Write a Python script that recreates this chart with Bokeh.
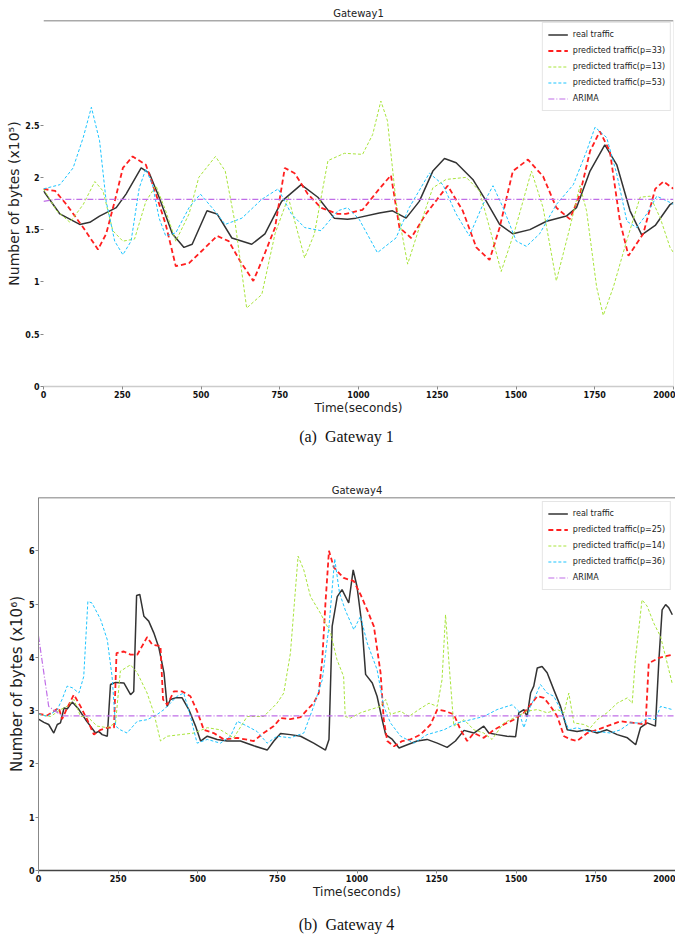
from bokeh.plotting import figure
from bokeh.models import (Range1d, FixedTicker, NumeralTickFormatter, Span, Div, Legend)
from bokeh.embed import file_html
from bokeh.resources import INLINE

# ---------------- Gateway 1 data (values in x10^5 bytes) ----------------
g1_real_t = [0,52,115,147,178,231,262,310,336,367,409,446,472,519,551,598,661,703,756,818,871,923,965,992,1066,1108,1151,1193,1236,1273,1310,1363,1406,1448,1490,1544,1597,1660,1692,1735,1782,1820,1862,1899,1942,1989,2000]
g1_real_v = [1.87,1.65,1.55,1.57,1.63,1.71,1.84,2.09,2.04,1.81,1.46,1.33,1.36,1.68,1.65,1.42,1.36,1.46,1.77,1.93,1.81,1.61,1.60,1.61,1.66,1.68,1.61,1.77,2.06,2.18,2.14,1.98,1.77,1.55,1.46,1.50,1.58,1.63,1.71,2.06,2.31,2.12,1.68,1.45,1.54,1.74,1.76]

g1_p33_t = [0,37,73,126,173,199,226,252,283,325,357,388,420,462,514,551,588,624,666,693,735,766,797,839,881,934,960,1013,1066,1103,1130,1167,1214,1283,1331,1374,1416,1448,1490,1538,1586,1628,1671,1703,1735,1766,1798,1830,1857,1904,1942,1968,2000]
g1_p33_v = [1.89,1.87,1.74,1.52,1.31,1.46,1.77,2.09,2.20,2.12,1.84,1.55,1.15,1.18,1.33,1.44,1.39,1.20,1.01,1.20,1.52,2.09,2.04,1.84,1.71,1.65,1.65,1.69,1.89,2.02,1.52,1.42,1.65,1.92,1.68,1.33,1.21,1.52,2.06,2.17,2.01,1.71,1.60,1.84,2.25,2.44,2.25,1.58,1.25,1.46,1.89,1.96,1.89]

g1_p13_t = [0,42,84,126,163,189,220,252,289,325,357,388,420,462,493,546,577,609,645,693,735,777,829,860,903,955,1013,1045,1071,1092,1119,1156,1193,1236,1278,1342,1384,1416,1453,1496,1549,1586,1628,1671,1703,1724,1756,1777,1809,1851,1894,1926,1958,1989,2000]
g1_p13_v = [1.89,1.68,1.57,1.74,1.96,1.87,1.49,1.39,1.41,1.77,1.92,1.68,1.39,1.65,2.00,2.20,2.06,1.55,0.75,0.88,1.46,1.81,1.23,1.46,2.16,2.23,2.22,2.41,2.73,2.54,1.77,1.17,1.52,1.90,1.98,2.00,1.87,1.52,1.10,1.49,2.06,1.71,1.01,1.52,1.92,1.68,0.95,0.68,0.95,1.39,1.81,1.82,1.61,1.33,1.28]

g1_p53_t = [0,52,94,126,152,178,199,226,252,278,304,325,346,367,388,420,462,498,535,577,630,693,745,787,829,881,934,965,1002,1060,1119,1161,1225,1268,1310,1352,1395,1427,1459,1501,1533,1575,1628,1682,1724,1751,1788,1820,1852,1883,1915,1947,1989,2000]
g1_p53_v = [1.89,1.93,2.09,2.38,2.67,2.35,1.77,1.39,1.26,1.39,1.90,2.08,1.93,1.61,1.44,1.47,1.71,1.84,1.71,1.55,1.61,1.79,1.89,1.65,1.52,1.49,1.68,1.71,1.60,1.28,1.42,1.71,2.04,1.93,1.65,1.44,1.74,1.92,1.71,1.39,1.34,1.46,1.74,1.93,2.25,2.48,2.38,2.03,1.58,1.52,1.65,1.82,1.76,1.74]

g1_arima_t = [0,40,2000]
g1_arima_v = [1.77,1.79,1.79]

# ---------------- Gateway 4 data (values in x10^6 bytes) ----------------
g4_real_t = [0,17,32,48,59,69,80,90,106,127,148,163,179,189,200,216,226,242,268,289,299,308,318,331,346,362,378,394,404,414,430,451,472,493,509,530,561,592,634,676,718,739,760,791,823,864,901,912,922,938,953,974,988,1000,1016,1027,1048,1063,1079,1090,1111,1132,1158,1189,1220,1252,1283,1309,1336,1367,1398,1414,1440,1471,1498,1508,1524,1534,1545,1555,1566,1581,1597,1618,1639,1660,1691,1723,1754,1785,1817,1849,1875,1890,1911,1937,1948,1958,1969,1979,1990]
g4_real_v = [2.84,2.78,2.74,2.58,2.74,2.77,3.05,3.03,3.16,3.02,2.83,2.71,2.58,2.61,2.55,2.52,3.49,3.53,3.52,3.30,3.36,5.16,5.18,4.77,4.68,4.46,4.18,3.71,3.08,3.21,3.24,3.24,3.02,2.71,2.43,2.52,2.46,2.43,2.43,2.34,2.26,2.43,2.57,2.55,2.52,2.39,2.26,2.46,4.58,5.14,5.27,5.02,5.64,5.33,4.58,3.68,3.52,3.27,2.83,2.55,2.46,2.30,2.36,2.43,2.46,2.39,2.31,2.43,2.63,2.58,2.71,2.58,2.55,2.52,2.51,2.96,3.02,2.89,3.33,3.46,3.80,3.83,3.71,3.39,3.08,2.64,2.61,2.64,2.58,2.64,2.55,2.49,2.36,2.68,2.77,2.71,3.96,4.89,4.99,4.93,4.80]

g4_p25_t = [0,27,48,64,74,90,111,132,153,174,195,216,237,245,268,289,310,331,341,357,383,391,404,425,451,477,498,519,550,582,624,676,707,739,760,791,823,844,864,880,891,901,912,927,958,990,1011,1032,1053,1074,1084,1095,1116,1142,1168,1199,1231,1252,1278,1304,1325,1346,1367,1398,1430,1461,1492,1524,1545,1566,1587,1608,1629,1650,1671,1691,1723,1754,1785,1827,1869,1906,1916,1948,1990]
g4_p25_v = [2.94,2.91,2.99,3.05,2.84,3.05,3.30,3.08,2.83,2.55,2.64,2.68,2.68,4.08,4.11,4.05,4.05,4.27,4.38,4.24,4.21,3.21,3.11,3.36,3.36,3.27,2.99,2.64,2.58,2.46,2.49,2.43,2.58,2.71,2.86,2.84,2.88,3.02,3.14,3.33,3.96,5.02,6.00,5.69,5.49,5.43,5.18,4.89,4.58,3.71,2.83,2.43,2.33,2.43,2.46,2.55,2.74,3.02,2.99,2.93,2.64,2.43,2.58,2.49,2.64,2.74,2.83,2.96,3.11,3.27,3.24,3.08,2.89,2.52,2.46,2.43,2.58,2.64,2.71,2.80,2.77,2.74,3.89,3.99,4.05]

g4_p14_t = [0,38,69,90,111,132,153,184,216,242,257,289,310,341,362,383,404,446,488,530,571,613,655,707,749,770,791,815,833,854,885,917,937,958,963,979,1011,1042,1074,1090,1105,1137,1163,1194,1226,1252,1267,1278,1288,1304,1336,1367,1398,1424,1461,1503,1534,1566,1597,1629,1650,1665,1681,1712,1733,1754,1785,1817,1849,1864,1874,1895,1911,1932,1953,1974,1990]
g4_p14_v = [2.93,2.89,3.02,3.08,3.21,2.89,2.89,2.71,2.68,2.77,3.74,3.86,3.71,3.33,2.96,2.43,2.52,2.55,2.58,2.68,2.64,2.49,2.89,2.89,3.14,3.33,4.08,5.90,5.64,5.14,4.83,4.46,3.96,3.64,2.89,2.86,2.96,3.02,3.08,3.21,2.93,2.99,2.89,3.02,3.14,3.08,3.58,4.80,3.96,2.71,2.83,2.64,2.58,2.46,2.77,2.89,2.99,3.02,2.96,3.02,2.96,3.33,2.77,2.74,2.68,2.83,2.96,3.14,3.24,3.14,3.96,5.08,4.96,4.64,4.39,3.89,3.50]

g4_p36_t = [0,27,59,74,90,106,127,142,155,168,195,216,231,242,257,278,310,341,373,394,414,435,456,477,498,530,571,603,624,655,686,718,749,791,833,864,891,912,930,945,963,990,1011,1032,1063,1084,1105,1137,1179,1220,1273,1315,1357,1398,1440,1487,1508,1524,1545,1560,1576,1597,1618,1639,1665,1691,1723,1754,1796,1827,1858,1890,1911,1937,1953,1990]
g4_p36_v = [2.94,2.89,3.02,3.21,3.46,3.43,3.33,3.64,5.05,5.02,4.71,4.33,3.64,2.71,2.64,2.58,2.80,2.83,2.93,3.02,3.14,3.27,3.33,2.89,2.39,2.46,2.39,2.52,2.80,2.71,2.61,2.39,2.52,2.49,2.58,3.08,3.58,4.58,5.85,5.21,4.89,4.52,4.77,4.27,3.77,3.08,2.77,2.52,2.39,2.55,2.64,2.77,2.83,2.89,3.02,3.11,2.99,2.68,3.08,3.27,3.49,3.33,3.27,3.02,2.64,2.68,2.61,2.61,2.58,2.64,2.77,2.77,2.86,2.83,3.08,3.02]

g4_arima_t = [0,32,74,2000]
g4_arima_v = [4.40,3.08,2.90,2.90]

x_ticks = [0,250,500,750,1000,1250,1500,1750,2000]
g1_y_ticks = [0,0.5,1,1.5,2,2.5]
g4_y_ticks = [0,1,2,3,4,5,6]

C_REAL = "#333333"
C_RED = "#ff1f1f"
C_GREEN = "#a8e43c"
C_CYAN = "#1cc4ff"
C_ARIMA = "#c06ee8"
FONT = "DejaVu Sans"


def make_fig(title, ylabel, ylabel_size, ymax, yticks, series, w, h, ml, mr, mt, mb,
             left_line, bottom_line, right_line, leg_margin):
    p = figure(output_backend="svg", toolbar_location=None, width=w, height=h,
               min_border_left=ml, min_border_right=mr, min_border_top=mt, min_border_bottom=mb,
               x_range=Range1d(0, 2000), y_range=Range1d(0, ymax))
    p.outline_line_color = None
    p.xgrid.visible = False
    p.ygrid.visible = False
    p.title.text = title
    p.title.align = "center"
    p.title.text_font = FONT
    p.title.text_font_style = "normal"
    p.title.text_font_size = "10px"
    p.title.text_color = "#222222"
    p.title.standoff = 3

    items = []
    for label, t, v, color, width, dash in series:
        r = p.line(t, v, line_color=color, line_width=width, line_dash=dash)
        items.append((label, [r]))
    leg = Legend(items=items, location="top_right")
    leg.margin = leg_margin
    leg.padding = 5
    leg.spacing = 3
    leg.label_height = 13
    leg.glyph_height = 13
    leg.glyph_width = 20
    leg.label_standoff = 5
    leg.label_text_font = FONT
    leg.label_text_font_size = "8px"
    leg.label_text_color = "#222222"
    leg.border_line_color = "#cccccc"
    leg.background_fill_alpha = 0.85
    p.add_layout(leg)

    p.xaxis.ticker = FixedTicker(ticks=x_ticks)
    p.yaxis.ticker = FixedTicker(ticks=yticks)
    p.yaxis.formatter = NumeralTickFormatter(format="0.[0]")
    for ax in (p.xaxis[0], p.yaxis[0]):
        ax.major_tick_out = 3
        ax.major_tick_in = 0
        ax.minor_tick_out = 0
        ax.minor_tick_in = 0
        ax.major_tick_line_color = "#888888"
        ax.major_label_standoff = 1
        ax.major_label_text_font = FONT
        ax.major_label_text_font_style = "bold"
        ax.major_label_text_font_size = "8px"
        ax.major_label_text_color = "#111111"
        ax.axis_label_text_font = FONT
        ax.axis_label_text_font_style = "normal"
        ax.axis_label_text_color = "#222222"
        ax.axis_label_standoff = 0
    p.xaxis.axis_label = "Time(seconds)"
    p.xaxis.axis_label_text_font_size = "12px"
    p.yaxis.axis_label = ylabel
    p.yaxis.axis_label_text_font_size = ylabel_size
    p.yaxis.axis_line_color = left_line
    p.xaxis.axis_line_color = bottom_line
    p.xaxis.axis_line_width = 1.5

    p.add_layout(Span(location=ymax, dimension="width", line_color="#555555", line_width=1.5))
    if right_line:
        p.add_layout(Span(location=2000, dimension="height", line_color=right_line, line_width=1))
    return p


s1 = [
    ("real traffic", g1_real_t, g1_real_v, C_REAL, 1.5, "solid"),
    ("predicted traffic(p=33)", g1_p33_t, g1_p33_v, C_RED, 1.8, "5 3"),
    ("predicted traffic(p=13)", g1_p13_t, g1_p13_v, C_GREEN, 1, "3 2"),
    ("predicted traffic(p=53)", g1_p53_t, g1_p53_v, C_CYAN, 1, "3 2"),
    ("ARIMA", g1_arima_t, g1_arima_v, C_ARIMA, 1.2, "6 2 1 2"),
]
s4 = [
    ("real traffic", g4_real_t, g4_real_v, C_REAL, 1.5, "solid"),
    ("predicted traffic(p=25)", g4_p25_t, g4_p25_v, C_RED, 1.8, "5 3"),
    ("predicted traffic(p=14)", g4_p14_t, g4_p14_v, C_GREEN, 1, "3 2"),
    ("predicted traffic(p=36)", g4_p36_t, g4_p36_v, C_CYAN, 1, "3 2"),
    ("ARIMA", g4_arima_t, g4_arima_v, C_ARIMA, 1.2, "6 2 1 2"),
]

p1 = make_fig("Gateway1", "Number of bytes (x10\u2075)", "14px", 3.5, g1_y_ticks, s1,
              w=675, h=428, ml=43, mr=2, mt=20, mb=42,
              left_line=None, bottom_line="#cccccc", right_line="#dddddd", leg_margin=2)
p2 = make_fig("Gateway4", "Number of bytes (x10\u2076)", "15px", 7.0, g4_y_ticks, s4,
              w=675, h=433, ml=38, mr=0, mt=18, mb=42,
              left_line="#888888", bottom_line="#444444", right_line=None, leg_margin=4)

cap_style = "text-align:center;font-family:'Liberation Serif',serif;font-size:16px;line-height:18px;color:#111;width:683px;position:relative;"
d1 = Div(text=f'<div style="{cap_style}top:-5px">(a)&nbsp; Gateway 1</div>', width=675, height=41)
d2 = Div(text=f'<div style="{cap_style}top:-1px">(b)&nbsp; Gateway 4</div>', width=675, height=30)

open("out.html", "w").write(file_html([p1, d1, p2, d2], INLINE))
